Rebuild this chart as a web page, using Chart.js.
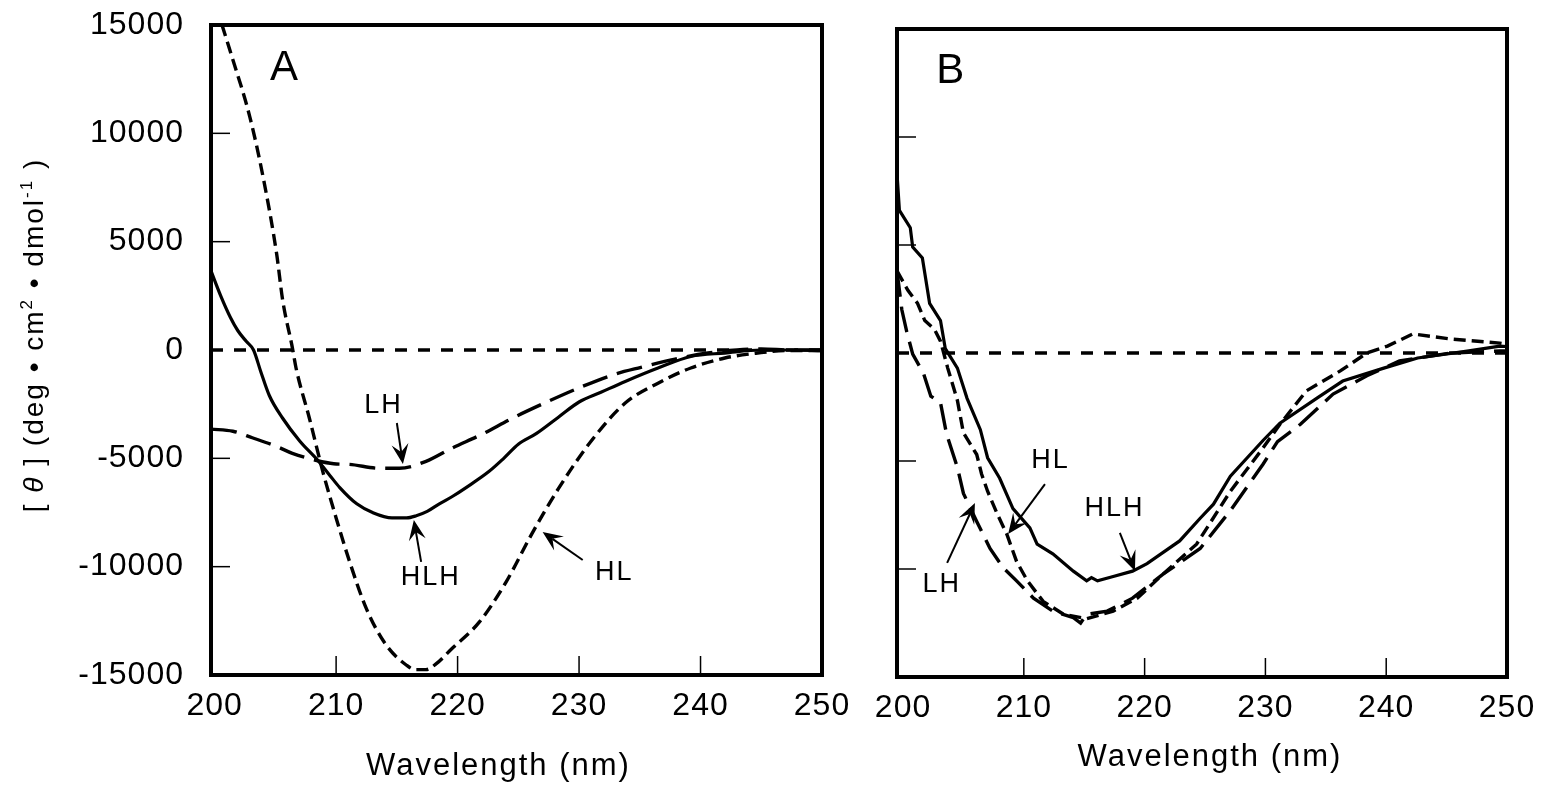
<!DOCTYPE html>
<html>
<head>
<meta charset="utf-8">
<script src="https://cdn.jsdelivr.net/npm/chart.js@4.4.1/dist/chart.umd.min.js"></script>
<style>
  html, body { margin: 0; padding: 0; background: #fff; }
  #wrapA { position: absolute; left: 0; top: 0; }
  #wrapB { position: absolute; left: 860px; top: 0; }
</style>
</head>
<body>
<div id="wrapA"><canvas id="chartA" width="860" height="788"></canvas></div>
<div id="wrapB"><canvas id="chartB" width="686" height="788"></canvas></div>
<script>
const FONT = "'Liberation Sans', Arial, sans-serif";

const xTicks = [200, 210, 220, 230, 240, 250];
const yTicks = [15000, 10000, 5000, 0, -5000, -10000, -15000];

// panel A
const aHLHWl = [199.7, 200.5, 201.3, 201.9, 202.6, 203.2, 203.8, 204.5, 205.6, 207.0, 208.5, 209.5, 210.3, 211.7, 213.0, 214.6, 215.8, 216.6, 217.5, 218.5, 219.6, 220.7, 222.6, 223.8, 225.0, 226.5, 228.3, 230.0, 231.8, 233.8, 236.5, 239.2, 242.0, 245.0, 247.5, 250.0];
const aHLHTheta = [3650, 2500, 1500, 900, 400, 0, -1000, -2100, -3150, -4200, -5100, -5800, -6350, -7100, -7500, -7750, -7750, -7650, -7450, -7100, -6750, -6350, -5600, -5000, -4350, -3850, -3100, -2400, -1950, -1450, -830, -300, -140, 0, 0, -30];

const aHLWl = [199.7, 201.5, 202.9, 204.0, 205.1, 205.6, 206.4, 206.7, 207.8, 208.9, 210.0, 211.1, 212.5, 214.1, 215.8, 216.5, 217.4, 218.2, 219.5, 221.8, 224.0, 226.1, 228.3, 231.0, 233.8, 236.5, 239.2, 242.0, 244.7, 247.0, 250.0];
const aHLTheta = [16600, 13400, 10750, 7950, 4450, 2300, 100, -830, -3150, -5600, -7750, -9750, -11950, -13600, -14550, -14750, -14750, -14500, -13800, -12550, -10700, -8500, -6400, -4200, -2450, -1530, -830, -370, -140, -30, -30];

const aLHWl = [199.7, 201.5, 203.1, 205.1, 206.4, 208.4, 209.8, 211.1, 213.6, 215.2, 217.4, 219.5, 222.0, 224.5, 227.5, 230.2, 233.0, 235.1, 237.9, 240.6, 243.0, 245.0, 247.5, 250.0];
const aLHTheta = [-3650, -3750, -4050, -4450, -4770, -5100, -5250, -5280, -5460, -5460, -5140, -4540, -3890, -3150, -2360, -1700, -1110, -800, -420, -140, 0, 50, 0, 0];

// panel B
const bHLHWl = [199.5, 199.7, 200.6, 200.8, 201.6, 202.2, 203.1, 203.5, 204.5, 205.3, 206.4, 207.0, 208.0, 209.1, 210.5, 211.1, 212.4, 214.1, 215.2, 215.6, 216.1, 217.4, 219.0, 220.2, 222.9, 224.6, 225.7, 227.1, 229.8, 231.2, 234.3, 236.4, 239.8, 242.6, 246.7, 249.4, 250.0];
const bHLHTheta = [8300, 6600, 5800, 4900, 4400, 2300, 1500, 200, -700, -2100, -3550, -4850, -5800, -7200, -8100, -8850, -9300, -10100, -10550, -10400, -10550, -10350, -10100, -9750, -8700, -7650, -7000, -5700, -4050, -3250, -2080, -1300, -700, -230, 90, 320, 300];

const bHLWl = [199.5, 200.4, 201.2, 201.8, 202.6, 203.1, 203.7, 204.5, 205.0, 206.1, 206.5, 207.0, 207.8, 208.6, 209.4, 210.3, 211.6, 213.3, 215.2, 217.4, 219.4, 221.5, 224.3, 227.1, 229.8, 231.2, 233.4, 236.2, 238.4, 240.1, 242.2, 245.3, 249.4, 250.0];
const bHLTheta = [3800, 2900, 2300, 1500, 1100, 550, -700, -2200, -3700, -4700, -5600, -6400, -7450, -8400, -9650, -10550, -11500, -12100, -12300, -11950, -11350, -10250, -8850, -6400, -4400, -3300, -1750, -830, 0, 320, 880, 650, 460, 400];

const bLHWl = [199.5, 199.9, 200.3, 200.8, 201.7, 202.3, 203.1, 203.6, 204.5, 205.0, 206.1, 207.2, 208.3, 209.4, 210.8, 212.4, 214.1, 214.7, 215.2, 216.9, 219.0, 221.5, 224.6, 227.1, 229.8, 231.0, 232.9, 235.6, 238.4, 241.1, 245.3, 249.4, 250.0];
const bLHTheta = [3800, 2000, 1000, -50, -950, -2000, -2300, -3750, -5300, -6500, -7800, -9050, -9950, -10550, -11350, -11950, -12250, -12500, -12100, -11950, -11350, -10250, -9050, -7300, -5150, -4100, -3300, -1900, -1050, -370, 0, 90, 100];

// labels and arrows, in data units (wavelength, theta)
const aLabels = [
  { text: 'A', wl: 205.8, theta: 13000, size: 42 },
  { text: 'LH', wl: 213.9, theta: -2550, size: 27 },
  { text: 'HLH', wl: 217.8, theta: -10500, size: 27 },
  { text: 'HL', wl: 232.9, theta: -10250, size: 27 }
];
const aArrows = [
  { from: [215.0, -3370], to: [215.5, -5260] },
  { from: [217.0, -9780], to: [216.4, -7850] },
  { from: [230.3, -9690], to: [227.0, -8400] }
];
const bLabels = [
  { text: 'B', wl: 204.0, theta: 13050, size: 42 },
  { text: 'HL', wl: 212.2, theta: -5000, size: 27 },
  { text: 'HLH', wl: 217.5, theta: -7220, size: 27 },
  { text: 'LH', wl: 203.2, theta: -10740, size: 27 }
];
const bArrows = [
  { from: [211.75, -6070], to: [208.7, -8380] },
  { from: [217.95, -8330], to: [219.2, -10090] },
  { from: [203.65, -9720], to: [205.95, -6950] }
];

function pts(xs, ys) {
  return xs.map((x, i) => ({ x: x, y: ys[i] }));
}

function drawArrow(ctx, x0, y0, x1, y1) {
  const dx = x1 - x0, dy = y1 - y0;
  const len = Math.hypot(dx, dy);
  const ux = dx / len, uy = dy / len;
  const nx = -uy, ny = ux;
  const L = 20, W = 8.5;
  const bx = x1 - ux * L, by = y1 - uy * L;
  const mx = x1 - ux * L * 0.6, my = y1 - uy * L * 0.6;
  ctx.beginPath();
  ctx.moveTo(x0, y0);
  ctx.lineTo(mx, my);
  ctx.lineWidth = 2;
  ctx.strokeStyle = '#000';
  ctx.stroke();
  ctx.beginPath();
  ctx.moveTo(x1, y1);
  ctx.lineTo(bx + nx * W, by + ny * W);
  ctx.lineTo(mx, my);
  ctx.lineTo(bx - nx * W, by - ny * W);
  ctx.closePath();
  ctx.fillStyle = '#000';
  ctx.fill();
}

const decor = {
  id: 'decor',
  beforeDraw(chart) {
    // tick labels are drawn a little spread out, as in the original
    chart.ctx.letterSpacing = '1px';
  },
  afterDraw(chart, args, opts) {
    const ctx = chart.ctx;
    const a = chart.chartArea;
    const xs = chart.scales.x, ys = chart.scales.y;
    ctx.save();
    ctx.letterSpacing = '2px';
    // inward tick marks
    ctx.strokeStyle = '#000';
    ctx.lineWidth = 1.5;
    xTicks.forEach(v => {
      const px = xs.getPixelForValue(v);
      if (px - a.left < 8 || a.right - px < 8) return;
      ctx.beginPath();
      ctx.moveTo(px, a.bottom);
      ctx.lineTo(px, a.bottom - 19);
      ctx.stroke();
    });
    yTicks.forEach(v => {
      if (v === 0 || Math.abs(v) === 15000) return;
      const py = ys.getPixelForValue(v);
      ctx.beginPath();
      ctx.moveTo(a.left, py);
      ctx.lineTo(a.left + 19, py);
      ctx.stroke();
    });
    // frame
    ctx.lineWidth = 4;
    ctx.strokeRect(a.left, a.top, a.right - a.left, a.bottom - a.top);
    // labels
    ctx.fillStyle = '#000';
    ctx.textAlign = 'center';
    ctx.textBaseline = 'middle';
    opts.labels.forEach(l => {
      ctx.font = l.size + 'px ' + FONT;
      ctx.fillText(l.text, xs.getPixelForValue(l.wl), ys.getPixelForValue(l.theta));
    });
    opts.arrows.forEach(ar => {
      drawArrow(ctx,
        xs.getPixelForValue(ar.from[0]), ys.getPixelForValue(ar.from[1]),
        xs.getPixelForValue(ar.to[0]), ys.getPixelForValue(ar.to[1]));
    });
    // x title
    ctx.font = '31px ' + FONT;
    ctx.fillText('Wavelength (nm)', (a.left + a.right) / 2 + opts.xTitleDx, a.bottom + opts.xTitleDy);
    // y title with italic theta and superscripts
    if (opts.yTitle) {
      const parts = [
        ['[ ', '28px ' + FONT, 0],
        ['\u03B8', 'italic 28px ' + FONT, 0],
        [' ] (deg \u2022 cm', '28px ' + FONT, 0],
        ['2', '17px ' + FONT, -8],
        [' \u2022 dmol', '28px ' + FONT, 0],
        ['-1', '17px ' + FONT, -8],
        [' )', '28px ' + FONT, 0]
      ];
      let total = 0;
      parts.forEach(p => { ctx.font = p[1]; total += ctx.measureText(p[0]).width; });
      ctx.translate(opts.yTitle.x, opts.yTitle.y);
      ctx.rotate(-Math.PI / 2);
      ctx.textAlign = 'left';
      ctx.textBaseline = 'middle';
      let cx = -total / 2;
      parts.forEach(p => {
        ctx.font = p[1];
        ctx.fillText(p[0], cx, p[2]);
        cx += ctx.measureText(p[0]).width;
      });
    }
    ctx.restore();
  }
};

function lineDs(label, data, dash, width, smooth) {
  return {
    label: label,
    data: data,
    borderColor: '#000',
    borderWidth: width,
    borderDash: dash,
    pointRadius: 0,
    fill: false,
    tension: smooth ? 0.4 : 0,
    cubicInterpolationMode: smooth ? 'monotone' : 'default'
  };
}

function makePanel(canvasId, xMin, sets, opts) {
  return new Chart(document.getElementById(canvasId), {
    type: 'line',
    data: { datasets: sets },
    options: {
      responsive: false,
      animation: false,
      events: [],
      layout: { padding: { top: opts.top, right: opts.right, left: 0, bottom: 0 } },
      plugins: {
        legend: { display: false },
        tooltip: { enabled: false },
        decor: opts.decor
      },
      scales: {
        x: {
          type: 'linear',
          min: xMin,
          max: 250,
          afterBuildTicks: s => { s.ticks = xTicks.map(v => ({ value: v })); },
          afterFit: s => { s.height = opts.xHeight; s.paddingLeft = 0; s.paddingRight = 0; },
          grid: { display: false, drawTicks: false },
          border: { display: false },
          ticks: { color: '#000', font: { family: FONT, size: 32 }, padding: 12, maxRotation: 0, autoSkip: false,
            callback: v => String(v) }
        },
        y: {
          type: 'linear',
          min: -15000,
          max: 15000,
          afterBuildTicks: s => { s.ticks = yTicks.map(v => ({ value: v })); },
          afterFit: s => { s.width = opts.yWidth; s.paddingTop = 0; s.paddingBottom = 0; },
          grid: { display: false, drawTicks: false },
          border: { display: false },
          ticks: { display: opts.yLabels, color: '#000', font: { family: FONT, size: 32 }, padding: 27,
            callback: v => String(v) }
        }
      }
    },
    plugins: [decor]
  });
}

const zeroA = lineDs('zero', pts([199.7, 250], [0, 0]), [12, 11], 3.5, false);
makePanel('chartA', 199.7, [
  zeroA,
  lineDs('HLH', pts(aHLHWl, aHLHTheta), [], 3.2, true),
  lineDs('HL', pts(aHLWl, aHLTheta), [12, 6], 3.4, true),
  lineDs('LH', pts(aLHWl, aLHTheta), [26, 10], 3.4, true)
], {
  top: 25, right: 38, xHeight: 113, yWidth: 211, yLabels: true,
  decor: { labels: aLabels, arrows: aArrows, xTitleDx: -18, xTitleDy: 91, yTitle: { x: 35, y: 335 } }
});

const zeroB = lineDs('zero', pts([199.5, 250], [0, 0]), [12, 11], 3.5, false);
makePanel('chartB', 199.5, [
  zeroB,
  lineDs('HLH', pts(bHLHWl, bHLHTheta), [], 3.2, false),
  lineDs('HL', pts(bHLWl, bHLTheta), [12, 6], 3.4, false),
  lineDs('LH', pts(bLHWl, bLHTheta), [26, 10], 3.4, false)
], {
  top: 29, right: 39, xHeight: 111, yWidth: 37, yLabels: false,
  decor: { labels: bLabels, arrows: bArrows, xTitleDx: 8, xTitleDy: 80, yTitle: null }
});
</script>
</body>
</html>
